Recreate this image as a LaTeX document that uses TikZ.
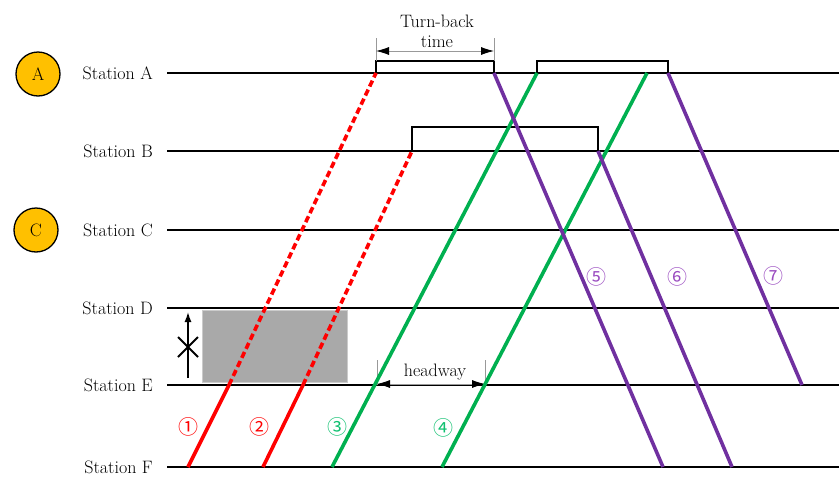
\documentclass[tikz,border=0pt]{standalone}
\usepackage{fontspec}
\newfontfamily\circfont{Noto Sans CJK SC}
\usetikzlibrary{arrows.meta}
\definecolor{trainred}{HTML}{FF0000}
\definecolor{traingreen}{HTML}{00B050}
\definecolor{labelgreen}{HTML}{10C070}
\definecolor{trainpurple}{HTML}{7030A0}
\definecolor{labelpurple}{HTML}{9A4CC0}
\definecolor{gold}{HTML}{FFC000}
\definecolor{blockgray}{HTML}{A9A9A9}
\definecolor{tickgray}{HTML}{999999}

\begin{document}
\begin{tikzpicture}[x=1pt,y=-1pt,
  track/.style={line width=1.5pt,black},
  stationlabel/.style={anchor=east,inner sep=0pt,font=\fontsize{18}{21}\selectfont},
  run/.style={line width=3.6pt},
  dashedrun/.style={run,dash pattern=on 6.5pt off 3.5pt},
  bracket/.style={line width=1.1pt,black},
  tick/.style={line width=0.8pt,tickgray},
  dimarrow/.style={line width=0.8pt,tickgray,{Latex[black,length=13pt,width=8pt]}-{Latex[black,length=13pt,width=8pt]}},
  trainno/.style={inner sep=0pt,font=\circfont\fontsize{20}{20}\selectfont},
  badge/.style={circle,draw=black,line width=1.3pt,fill=gold,minimum size=44pt,inner sep=0pt,font=\fontsize{18}{21}\selectfont},
  plain/.style={inner sep=0pt,font=\fontsize{18}{21}\selectfont}
]
\useasboundingbox (0,0) rectangle (839,477);

% restricted section between stations D and E
\node[fill=blockgray,draw=blockgray!60,line width=0.8pt,minimum width=145pt,minimum height=72pt,inner sep=0pt,anchor=north west] (block) at (202,310) {};

% station tracks and names
\foreach \n/\y in {A/73,B/151,C/230,D/308,E/385,F/467} {
  \node[stationlabel] (lab\n) at (153,\y) {Station \n};
  \coordinate (s\n) at (167,\y);
  \coordinate (e\n) at (839,\y);
  \draw[track] (s\n) -- (e\n);
}

% turn-back badges
\node[badge] (badgeA) at (38,74) {A};
\node[badge] (badgeC) at (36,230) {C};

% turn-back dwell brackets
\coordinate (tbA1) at (376,73);
\coordinate (tbA2) at (494,73);
\coordinate (tbA3) at (537,73);
\coordinate (tbA4) at (668,73);
\coordinate (tbB1) at (412,151);
\coordinate (tbB2) at (598,151);
\draw[bracket] (tbA1) -- ++(0,-12) -| (tbA2);
\draw[bracket] (tbA3) -- ++(0,-12) -| (tbA4);
\draw[bracket] (tbB1) -- ++(0,-24) -| (tbB2);

% turn-back time dimension
\coordinate (tt1) at (376,61);
\coordinate (tt2) at (494,61);
\draw[tick] (tt1) -- ++(0,-23) coordinate (tt1top);
\draw[tick] (tt2) -- ++(0,-23) coordinate (tt2top);
\draw[dimarrow] ([yshift=-13pt]tt1top) -- ([yshift=-13pt]tt2top);
\node[plain,align=center] (tblabel) at (437,31) {Turn-back\\[-1pt]time};

% headway dimension
\coordinate (hw1) at (377,385);
\coordinate (hw2) at (485,385);
\draw[tick] (hw1) -- ++(0,-25);
\draw[tick] (hw2) -- ++(0,-25);
\draw[dimarrow] ([yshift=1pt]hw1) -- ([yshift=1pt]hw2);
\node[plain] (hwlabel) at (435,372) {headway};

% blocked direction marker
\coordinate (blk1) at (188,378);
\coordinate (blk2) at (188,312);
\coordinate (blkx) at (188,347);
\draw[line width=1.4pt,-{Latex[length=10pt,width=7pt]}] (blk1) -- (blk2);
\draw[line width=2pt] ([shift={(-10,-10)}]blkx) -- ([shift={(10,10)}]blkx)
                      ([shift={(-10,10)}]blkx) -- ([shift={(10,-10)}]blkx);

% trains 1 and 2 (cancelled beyond station E)
\coordinate (r1F) at (188,467);
\coordinate (r1E) at (229,385);
\coordinate (r1A) at (376,73);
\coordinate (r2F) at (263,467);
\coordinate (r2E) at (303,385);
\coordinate (r2B) at (412,151);
\draw[dashedrun,trainred] (r1E) -- (r1A);
\draw[run,trainred] (r1F) -- (r1E);
\draw[dashedrun,trainred] (r2E) -- (r2B);
\draw[run,trainred] (r2F) -- (r2E);

% trains 3 and 4
\coordinate (g3F) at (332,467);
\coordinate (g3A) at (537,73);
\coordinate (g4F) at (442,467);
\coordinate (g4A) at (647,73);
\draw[run,traingreen] (g3F) -- (g3A);
\draw[run,traingreen] (g4F) -- (g4A);

% trains 5, 6 and 7 (return direction)
\coordinate (p5A) at (494,73);
\coordinate (p5F) at (663,467);
\coordinate (p6B) at (598,151);
\coordinate (p6F) at (732,467);
\coordinate (p7A) at (668,73);
\coordinate (p7E) at (802,385);
\draw[run,trainpurple] (p5A) -- (p5F);
\draw[run,trainpurple] (p6B) -- (p6F);
\draw[run,trainpurple] (p7A) -- (p7E);

% train numbers
\node[trainno,text=trainred] (n1) at (188,427) {①};
\node[trainno,text=trainred] (n2) at (259,427) {②};
\node[trainno,text=labelgreen] (n3) at (337,427) {③};
\node[trainno,text=labelgreen] (n4) at (443,428) {④};
\node[trainno,text=labelpurple] (n5) at (596,277) {⑤};
\node[trainno,text=labelpurple] (n6) at (677,277) {⑥};
\node[trainno,text=labelpurple] (n7) at (773,276) {⑦};
\end{tikzpicture}
\end{document}
